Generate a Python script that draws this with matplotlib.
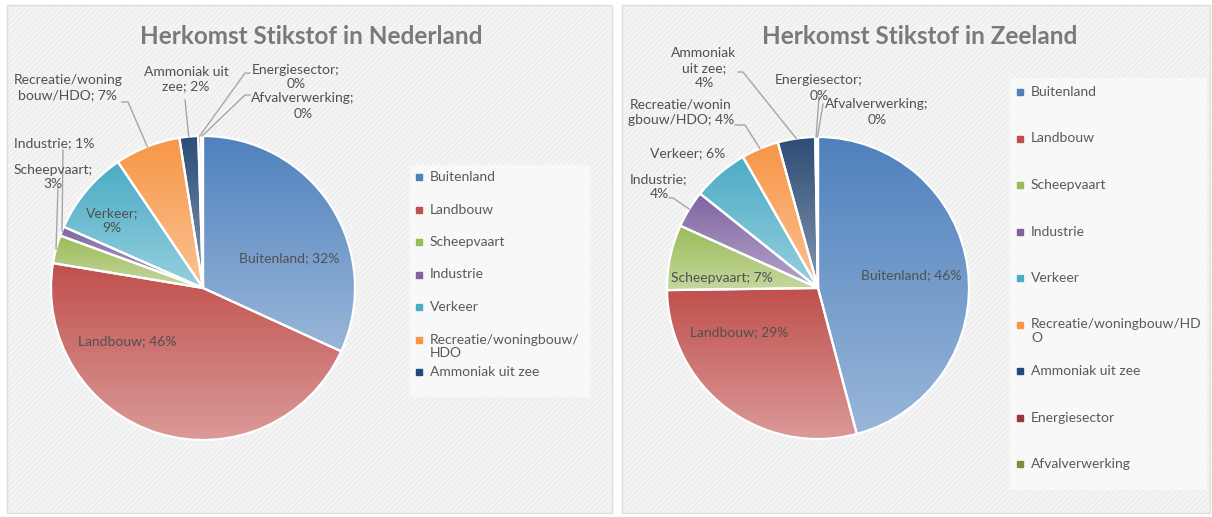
import numpy as np
import matplotlib
matplotlib.use('Agg')
import matplotlib.pyplot as plt
from matplotlib.colors import to_rgb
from matplotlib.patches import Rectangle

plt.rcParams['font.family'] = ['Lato', 'DejaVu Sans']
plt.rcParams['hatch.linewidth'] = 0.6

W, H = 1212, 517

# --- data -------------------------------------------------------------
categories = ['Buitenland', 'Landbouw', 'Scheepvaart', 'Industrie', 'Verkeer',
              'Recreatie/woningbouw/HDO', 'Ammoniak uit zee', 'Energiesector',
              'Afvalverwerking']
colors = ['#4f81bd', '#c0504d', '#9bbb59', '#8064a2', '#4bacc6',
          '#f79646', '#2c4d75', '#772c2a', '#5f7530']
legend_colors = ['#4f81bd', '#c0504d', '#9bbb59', '#8064a2', '#4bacc6',
                 '#f79646', '#1f497d', '#953735', '#76923c']

nl_values = [32, 46, 3, 1, 9, 7, 2, 0.3, 0.2]
ze_values = [46, 29, 7, 4, 6, 4, 4, 0.2, 0.1]

# label texts as shown (Excel wraps them), {p} = rounded percentage
nl_formats = ['Buitenland; {p}%', 'Landbouw; {p}%', 'Scheepvaart;\n{p}%',
              'Industrie; {p}%', 'Verkeer;\n{p}%', 'Recreatie/woning\nbouw/HDO; {p}%',
              'Ammoniak uit\nzee; {p}%', 'Energiesector;\n{p}%', 'Afvalverwerking;\n{p}%']
ze_formats = ['Buitenland; {p}%', 'Landbouw; {p}%', 'Scheepvaart; {p}%',
              'Industrie;\n{p}%', 'Verkeer; {p}%', 'Recreatie/wonin\ngbouw/HDO; {p}%',
              'Ammoniak\nuit zee;\n{p}%', 'Energiesector;\n{p}%', 'Afvalverwerking;\n{p}%']

nl_legend = ['Buitenland', 'Landbouw', 'Scheepvaart', 'Industrie', 'Verkeer',
             'Recreatie/woningbouw/\nHDO', 'Ammoniak uit zee']
ze_legend = ['Buitenland', 'Landbouw', 'Scheepvaart', 'Industrie', 'Verkeer',
             'Recreatie/woningbouw/HD\nO', 'Ammoniak uit zee', 'Energiesector',
             'Afvalverwerking']

# --- layout (pixel positions, y from top) --------------------------------
def Y(y):
    return H - y

nl_layout = dict(
    panel=(7, 5, 612, 513), center=(203, 288), radius=152,
    title=(311, 37), title_text='Herkomst Stikstof in Nederland',
    legend_box=(410, 165, 590, 397), legend_first=(419, 177), legend_step=32.5,
    labels=[(289, 258), (127, 341), (53, 177), (54, 143), (112, 221),
            (68, 88), (186, 79), (296, 77), (303, 106)],
    # leader line start points (None = no leader)
    leaders=[None, None, (58, 187), (63, 150), None,
             [(122, 102), (128, 102)], (185, 100),
             [(250, 73), (245, 73)], [(250, 95), (245, 95)]],
)
ze_layout = dict(
    panel=(622, 5, 1210, 513), center=(818, 288), radius=151,
    title=(920, 37), title_text='Herkomst Stikstof in Zeeland',
    legend_box=(1010, 78, 1207, 490), legend_first=(1020, 92), legend_step=46.5,
    labels=[(911, 275), (739, 332), (722, 278), (659, 187), (688, 153),
            (681, 112), (704, 68), (819, 88), (877, 112)],
    leaders=[None, None, None, [(669, 198), (673, 198)], None,
             [(735, 125), (745, 125)], [(738, 72), (743, 72)],
             (819, 97), (823, 104)],
)


def lighten(c, f):
    c = np.array(to_rgb(c))
    return c + (1 - c) * f


def shade_wedges(ax, wedges, cols):
    # vertical gradient per slice, darker on top, like the Excel style
    t = np.linspace(0, 1, 96)[:, None]
    for w, c in zip(wedges, cols):
        ext = w.get_path().get_extents()
        top = np.array(to_rgb(c))
        bottom = lighten(c, 0.42)
        img = (top * (1 - t) + bottom * t)[:, None, :]
        im = ax.imshow(img, extent=[ext.x0, ext.x1, ext.y0, ext.y1], origin='upper',
                       aspect='auto', zorder=1, interpolation='bilinear')
        im.set_clip_path(w)
        w.set_facecolor('none')
        w.set_zorder(2)


def draw_legend(ax, labels, cols, lay):
    # Excel puts legend entries at a fixed pitch, also for wrapped labels
    bx0, by0, bx1, by1 = lay['legend_box']
    ax.add_patch(Rectangle((bx0, Y(by1)), bx1 - bx0, by1 - by0,
                           facecolor='#f8f8f8', edgecolor='none', zorder=0.8))
    mx, my = lay['legend_first']
    for i, (lab, c) in enumerate(zip(labels, cols)):
        yy = Y(my + i * lay['legend_step'])
        ax.plot([mx], [yy], marker='s', ls='', color=c, markersize=4.5, zorder=4)
        ax.text(mx + 11, yy + 6, lab, ha='left', va='top', fontsize=10,
                color='#595959', linespacing=1.15, zorder=4)


def draw_panel(ax, values, formats, legend_labels, lay):
    x0, y0, x1, y1 = lay['panel']
    ax.add_patch(Rectangle((x0, Y(y1)), x1 - x0, y1 - y0, facecolor='#f4f4f4',
                           edgecolor='#e9e9e9', hatch='//////', lw=0, zorder=0))
    ax.add_patch(Rectangle((x0, Y(y1)), x1 - x0, y1 - y0, facecolor='none',
                           edgecolor='#dedede', lw=1, zorder=0.5))

    cx, cy = lay['center']
    wedges, _ = ax.pie(values, center=(cx, Y(cy)), radius=lay['radius'],
                       startangle=90, counterclock=False, colors=colors,
                       wedgeprops=dict(edgecolor='white', linewidth=1.6),
                       frame=True)
    shade_wedges(ax, wedges, colors)

    total = sum(values)
    for v, w, fmt, pos, lead in zip(values, wedges, formats, lay['labels'], lay['leaders']):
        ax.text(pos[0], Y(pos[1]), fmt.format(p=f'{100 * v / total:.0f}'),
                ha='center', va='center', ma='center', fontsize=10,
                color='#505050', linespacing=1.3, zorder=4)
        if lead is not None:
            pts = lead if isinstance(lead, list) else [lead]
            mid = np.deg2rad((w.theta1 + w.theta2) / 2)
            ex = cx + w.r * np.cos(mid)
            ey = Y(cy) + w.r * np.sin(mid)
            xs = [q[0] for q in pts] + [ex]
            ys = [Y(q[1]) for q in pts] + [ey]
            ax.plot(xs, ys, color='#a6a6a6', lw=1, zorder=3)

    tx, ty = lay['title']
    ax.text(tx, Y(ty), lay['title_text'], ha='center', va='center', fontsize=17.5,
            fontweight='bold', color='#7a7a7a', zorder=4)

    draw_legend(ax, legend_labels, legend_colors[:len(legend_labels)], lay)


fig = plt.figure(figsize=(W / 100, H / 100), dpi=100)
ax = fig.add_axes([0, 0, 1, 1])

draw_panel(ax, nl_values, nl_formats, nl_legend, nl_layout)
draw_panel(ax, ze_values, ze_formats, ze_legend, ze_layout)

ax.set_xlim(0, W)
ax.set_ylim(0, H)
ax.set_aspect('auto')
ax.axis('off')

fig.savefig('out.png', dpi=100)
